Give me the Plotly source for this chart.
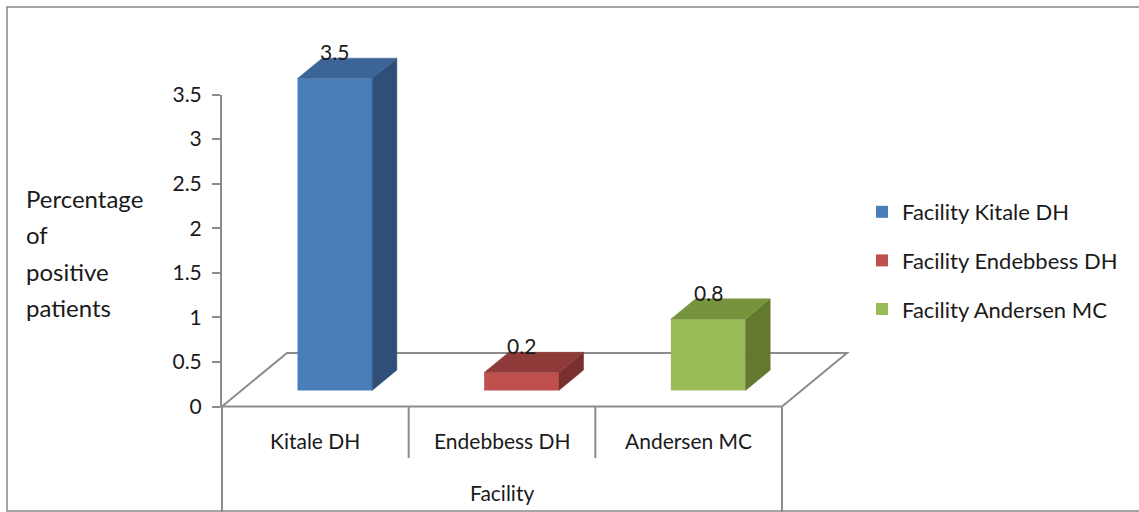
import plotly.graph_objects as go

# --- data -------------------------------------------------------------
categories = ["Kitale DH", "Endebbess DH", "Andersen MC"]
series_names = ["Facility Kitale DH", "Facility Endebbess DH", "Facility Andersen MC"]
values = [3.5, 0.2, 0.8]
y_ticks = [0, 0.5, 1, 1.5, 2, 2.5, 3, 3.5]
x_title = "Facility"
y_title_lines = ["Percentage", "of", "positive", "patients"]

# --- styling ----------------------------------------------------------
FONT = "Lato"
TEXT = "#1a1a1a"
AXIS_GREY = "#8c8c8c"
front_colors = ["#4a7ebb", "#c0504d", "#9bbb59"]
top_colors = ["#3d6496", "#8e3b39", "#77933c"]
side_colors = ["#2f4f78", "#7a302e", "#63792f"]

W, H = 1139, 512
PX_PER_CAT = 186.67      # pixels per category slot
PX_PER_UNIT = 89.14      # pixels per value unit
ORIGIN_X, ORIGIN_Y = 222, 406.5   # pixel position of (-0.5, 0)

x_range = [-0.5 - ORIGIN_X / PX_PER_CAT, -0.5 + (W - ORIGIN_X) / PX_PER_CAT]
y_range = [-(H - ORIGIN_Y) / PX_PER_UNIT, ORIGIN_Y / PX_PER_UNIT]

# oblique depth of the floor, expressed in axis units
FLOOR_DX = 65 / PX_PER_CAT
FLOOR_DY = 53.5 / PX_PER_UNIT
FRONT_T, BACK_T = 0.30, 0.68      # bar front / back planes as a fraction of depth
BAR_W = 0.40

fdx, fdy = FRONT_T * FLOOR_DX, FRONT_T * FLOOR_DY
ddx, ddy = (BACK_T - FRONT_T) * FLOOR_DX, (BACK_T - FRONT_T) * FLOOR_DY

fig = go.Figure()

# front faces (also give the legend entries)
for i, (name, v) in enumerate(zip(series_names, values)):
    fig.add_trace(go.Bar(
        x=[i + fdx], y=[v], base=[fdy], width=BAR_W,
        name=name, legendgroup=name,
        marker=dict(color=front_colors[i], line=dict(width=0)),
        hoverinfo="skip",
    ))

# top and side faces
for i, v in enumerate(values):
    xl = i + fdx - BAR_W / 2
    xr = i + fdx + BAR_W / 2
    b = fdy
    t = fdy + v
    fig.add_trace(go.Scatter(
        x=[xr, xr + ddx, xr + ddx, xr, xr],
        y=[b, b + ddy, t + ddy, t, b],
        fill="toself", fillcolor=side_colors[i], mode="lines",
        line=dict(color=side_colors[i], width=0.5),
        showlegend=False, hoverinfo="skip",
    ))
    fig.add_trace(go.Scatter(
        x=[xl, xr, xr + ddx, xl + ddx, xl],
        y=[t, t, t + ddy, t + ddy, t],
        fill="toself", fillcolor=top_colors[i], mode="lines",
        line=dict(color=top_colors[i], width=0.5),
        showlegend=False, hoverinfo="skip",
    ))

# anchor trace for the visible value axis
fig.add_trace(go.Scatter(x=[0], y=[0], xaxis="x2", yaxis="y2", mode="markers",
                         marker=dict(opacity=0), showlegend=False, hoverinfo="skip"))

n = len(categories)
left, right = -0.5, n - 0.5
shapes = []
# floor outline
floor_path = (f"M{left},0 L{right},0 L{right + FLOOR_DX},{FLOOR_DY} "
              f"L{left + FLOOR_DX},{FLOOR_DY} Z")
shapes.append(dict(type="path", path=floor_path, xref="x", yref="y",
                   line=dict(color=AXIS_GREY, width=2), layer="below"))
# category box lines
div_bottom = -(458 - ORIGIN_Y) / PX_PER_UNIT
for k in range(1, n):
    shapes.append(dict(type="line", xref="x", yref="y", x0=k - 0.5, x1=k - 0.5,
                       y0=0, y1=div_bottom, line=dict(color=AXIS_GREY, width=2),
                       layer="below"))
for xe in (left, right):
    shapes.append(dict(type="line", xref="x", yref="y", x0=xe, x1=xe,
                       y0=0, y1=y_range[0] - 0.2, line=dict(color=AXIS_GREY, width=2),
                       layer="below"))
# chart frame
shapes.append(dict(type="rect", xref="paper", yref="paper",
                   x0=7 / W, x1=1.01, y0=1 / H, y1=1 - 7 / H,
                   line=dict(color="#868686", width=1.5), layer="below"))

annotations = []
# data labels
for i, v in enumerate(values):
    annotations.append(dict(x=i + fdx, y=fdy + v, xref="x", yref="y",
                            text=f"{v:g}", showarrow=False, yanchor="middle",
                            yshift=27, font=dict(family=FONT, size=21, color=TEXT)))
# category labels
cat_y = -(440 - ORIGIN_Y) / PX_PER_UNIT
for i, c in enumerate(categories):
    annotations.append(dict(x=i, y=cat_y, xref="x", yref="y", text=c,
                            showarrow=False, font=dict(family=FONT, size=21, color=TEXT)))
annotations.append(dict(x=(n - 1) / 2, y=-(492 - ORIGIN_Y) / PX_PER_UNIT,
                        xref="x", yref="y", text=x_title, showarrow=False,
                        font=dict(family=FONT, size=21, color=TEXT)))
# value-axis title, one line per annotation
for j, line in enumerate(y_title_lines):
    py = 198 + 36.5 * j
    annotations.append(dict(x=24 / W, y=1 - py / H, xref="paper", yref="paper",
                            text=line, showarrow=False, xanchor="left", yanchor="middle",
                            font=dict(family=FONT, size=24, color=TEXT)))

fig.update_layout(
    width=W, height=H,
    margin=dict(l=0, r=0, t=0, b=0, autoexpand=False),
    paper_bgcolor="white", plot_bgcolor="rgba(0,0,0,0)",
    barmode="overlay",
    showlegend=True,
    legend=dict(x=862 / W, xanchor="left", y=1 - 191 / H, yanchor="top",
                traceorder="grouped", tracegroupgap=17,
                font=dict(family=FONT, size=22, color=TEXT),
                bgcolor="rgba(0,0,0,0)"),
    xaxis=dict(range=x_range, visible=False, fixedrange=True),
    yaxis=dict(range=y_range, visible=False, fixedrange=True),
    xaxis2=dict(domain=[ORIGIN_X / W, ORIGIN_X / W + 0.002], anchor="y2",
                visible=False, range=[0, 1], fixedrange=True),
    yaxis2=dict(domain=[(H - ORIGIN_Y) / H, (H - 94.5) / H], anchor="x2",
                range=[0, 3.5], tickvals=y_ticks, ticks="outside", ticklen=8,
                tickwidth=2, tickcolor=AXIS_GREY, showline=True, linecolor=AXIS_GREY,
                linewidth=2, showgrid=False, zeroline=False, fixedrange=True,
                ticklabelstandoff=6,
                tickfont=dict(family=FONT, size=21, color=TEXT)),
    shapes=shapes,
    annotations=annotations,
)

fig.write_html("out.html")
